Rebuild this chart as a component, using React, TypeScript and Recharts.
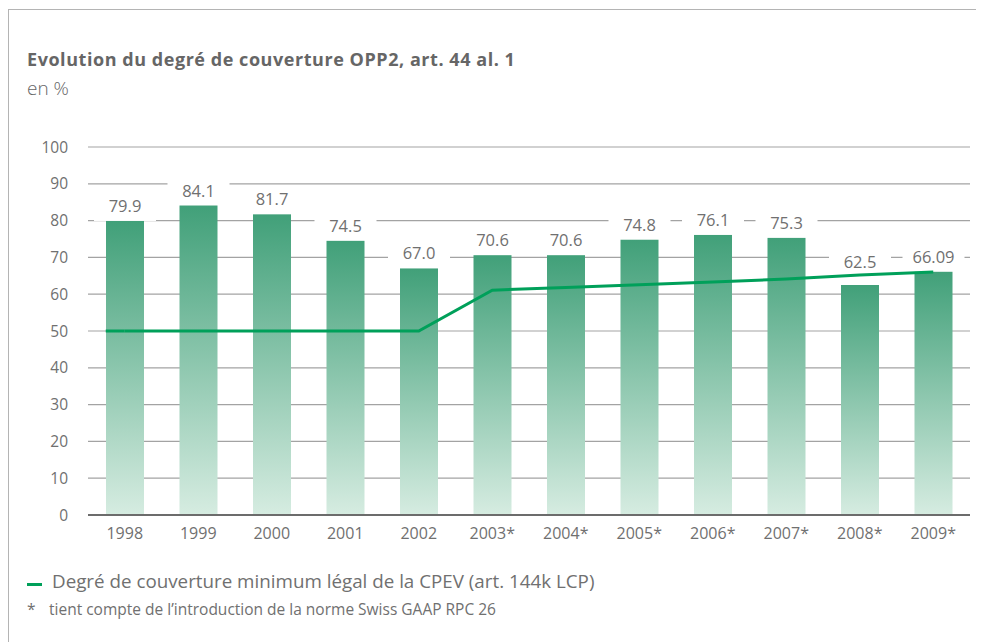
import { ComposedChart, Bar, Line, XAxis, YAxis, CartesianGrid } from 'recharts'

const years = ['1998', '1999', '2000', '2001', '2002', '2003*', '2004*', '2005*', '2006*', '2007*', '2008*', '2009*']
const coverage = [79.9, 84.1, 81.7, 74.5, 67.0, 70.6, 70.6, 74.8, 76.1, 75.3, 62.5, 66.09]
const coverageLabels = ['79.9', '84.1', '81.7', '74.5', '67.0', '70.6', '70.6', '74.8', '76.1', '75.3', '62.5', '66.09']
const legalMinimum = [50, 50, 50, 50, 50, 61.1, 61.8, 62.6, 63.3, 64.1, 65.2, 66.0]
const yTicks = [0, 10, 20, 30, 40, 50, 60, 70, 80, 90, 100]

const data = years.map((year, i) => ({
  year,
  coverage: coverage[i],
  minimum: legalMinimum[i],
}))

const font = '"Open Sans", "Noto Sans", sans-serif'
const grey = '#707070'
const green = '#00a05a'

// baseline of the value text: just above the bar, or above the green line when it runs close under the text
function labelBaseline(x: any) {
  const top = Number(x.y)
  const i = x.index
  const pxPerUnit = Number(x.height) / coverage[i]
  const lineY = top + Number(x.height) - legalMinimum[i] * pxPerUnit
  let base = top - 9
  if (lineY < top + 4 && lineY > base - 14) base = Math.min(base, lineY - 7)
  return base
}

// bar + white patch above it, so the grid is cut behind the value but the line stays on top
function BarWithPatch(props: any) {
  const { x, y, width, height } = props
  const cx = x + width / 2
  const base = labelBaseline(props)
  return (
    <g>
      <rect x={cx - 31} y={base - 19} width={62} height={y - base + 19} fill="#fff" />
      <rect x={x} y={y} width={width} height={height} fill="url(#barFill)" />
    </g>
  )
}

function ValueLabel(props: any) {
  const { x, width, index } = props
  const cx = Number(x) + Number(width) / 2
  return (
    <text x={cx} y={labelBaseline(props)} textAnchor="middle" fill={grey} fontSize={16.5} fontFamily={font}>
      {coverageLabels[index]}
    </text>
  )
}

// the legal minimum line starts at the left edge of the first bar
function LineStart(props: any) {
  const { cx, cy, index } = props
  if (index !== 0) return <g key={`d${index}`} />
  return <line key="d0" x1={cx - 19} y1={cy} x2={cx} y2={cy} stroke={green} strokeWidth={3} />
}

export default function App() {
  return (
    <div style={{ position: 'relative', width: 976, height: 634, fontFamily: font, color: grey }}>
      <div
        style={{
          position: 'absolute',
          left: 0,
          top: 1,
          width: 976,
          height: 633,
          borderTop: '1px solid #b4b4b4',
          borderLeft: '1px solid #b4b4b4',
        }}
      />
      <div
        style={{
          position: 'absolute',
          left: 19,
          top: 39,
          fontSize: 18,
          letterSpacing: 0.55,
          fontWeight: 700,
          color: '#666',
          whiteSpace: 'nowrap',
        }}
      >
        Evolution du degré de couverture OPP2, art. 44 al. 1
      </div>
      <div style={{ position: 'absolute', left: 19, top: 67, fontSize: 19, fontWeight: 300, color: '#666' }}>
        en %
      </div>

      <div style={{ position: 'absolute', left: 0, top: 100 }}>
        <ComposedChart
          width={976}
          height={441}
          data={data}
          margin={{ top: 39, right: 14, left: 0, bottom: 4 }}
          barSize={38}
        >
          <defs>
            <linearGradient id="barFill" x1="0" y1="0" x2="0" y2="1">
              <stop offset="0%" stopColor="#41a079" />
              <stop offset="100%" stopColor="#d6ece1" />
            </linearGradient>
          </defs>
          <CartesianGrid vertical={false} stroke="#a3a3a3" strokeWidth={1.2} />
          <XAxis
            dataKey="year"
            tickLine={false}
            axisLine={{ stroke: '#6c6c6c', strokeWidth: 2 }}
            tick={{ fill: grey, fontSize: 16, fontFamily: font }}
            tickMargin={7}
            height={30}
          />
          <YAxis
            domain={[0, 100]}
            ticks={yTicks}
            tickLine={false}
            axisLine={false}
            tick={{ fill: grey, fontSize: 15.5, fontFamily: font }}
            tickMargin={14}
            width={80}
            interval={0}
          />
          <Bar
            dataKey="coverage"
            fill="url(#barFill)"
            shape={BarWithPatch}
            label={ValueLabel}
            isAnimationActive={false}
          />
          <Line
            type="linear"
            dataKey="minimum"
            stroke={green}
            strokeWidth={3}
            dot={LineStart}
            activeDot={false}
            isAnimationActive={false}
          />
        </ComposedChart>
      </div>

      <div style={{ position: 'absolute', left: 19, top: 575, width: 15, height: 3, background: green }} />
      <div style={{ position: 'absolute', left: 44, top: 560, fontSize: 18.8, whiteSpace: 'nowrap' }}>
        Degré de couverture minimum légal de la CPEV (art. 144k LCP)
      </div>
      <div style={{ position: 'absolute', left: 19, top: 590, fontSize: 15.5 }}>*</div>
      <div style={{ position: 'absolute', left: 41, top: 590, fontSize: 15.5, whiteSpace: 'nowrap' }}>
        tient compte de l’introduction de la norme Swiss GAAP RPC 26
      </div>
    </div>
  )
}
